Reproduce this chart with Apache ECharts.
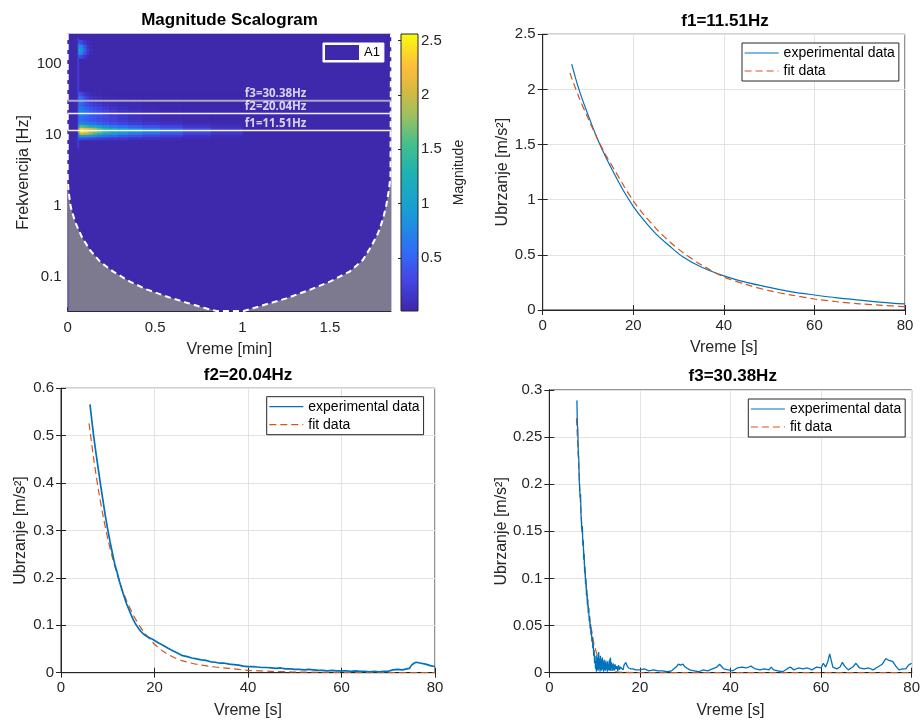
<!DOCTYPE html>
<html><head><meta charset="utf-8">
<script src="https://cdn.jsdelivr.net/npm/echarts@6/dist/echarts.min.js"></script>
<style>html,body{margin:0;padding:0;background:#fff}#c{width:923px;height:722px}</style>
</head><body><div id="c"></div>
<script>
// ---------------- DATA ----------------
// Scalogram (time in minutes, frequency in Hz, magnitude)
const scaloTimeRange = [0, 1.85];
const scaloFreqRange = [0.0332, 264];
const scaloBackgroundMagnitude = 0.03;
const onsetTime = [0.058, 0.063];
const onsetFreq = [6.5, 230];
const onsetMagnitude = 0.28;
const bandTimeEdges = [0.063, 0.072, 0.082, 0.095, 0.11, 0.125, 0.145, 0.17, 0.2, 0.24, 0.29, 0.35, 0.43, 0.53, 0.66, 0.82, 1.0];
const bandFreqEdges = [8.5, 9.3, 10.1, 10.9, 11.8, 12.8, 14.0, 15.5, 17.0, 18.8, 20.8, 23.0, 25.5, 28.5, 32.0, 36.0, 40.0];
const bandMagnitude = [
  [0.30,0.35,0.35,0.30,0.30,0.28,0.25,0.22,0.20,0.18,0.15,0.12,0.10,0.08,0.06,0.05],
  [0.80,1.00,1.00,0.95,0.90,0.85,0.78,0.68,0.58,0.50,0.42,0.34,0.27,0.20,0.13,0.08],
  [1.60,2.00,2.00,1.90,1.80,1.70,1.55,1.35,1.15,1.00,0.85,0.70,0.55,0.40,0.26,0.15],
  [2.20,2.55,2.50,2.45,2.35,2.20,2.00,1.75,1.50,1.30,1.10,0.95,0.80,0.60,0.40,0.22],
  [2.00,2.35,2.30,2.25,2.10,1.95,1.80,1.55,1.30,1.15,0.95,0.80,0.65,0.50,0.32,0.18],
  [1.30,1.60,1.50,1.40,1.30,1.20,1.10,0.95,0.80,0.68,0.57,0.47,0.37,0.27,0.17,0.10],
  [0.70,0.80,0.75,0.70,0.65,0.60,0.55,0.48,0.40,0.33,0.27,0.20,0.15,0.10,0.07,0.05],
  [0.55,0.60,0.55,0.50,0.48,0.45,0.40,0.35,0.30,0.25,0.20,0.15,0.10,0.07,0.05,0.04],
  [0.60,0.65,0.60,0.55,0.50,0.45,0.40,0.35,0.30,0.24,0.18,0.13,0.09,0.06,0.04,0.03],
  [0.70,0.75,0.70,0.62,0.55,0.50,0.44,0.38,0.30,0.23,0.17,0.12,0.08,0.05,0.04,0.03],
  [0.75,0.80,0.72,0.65,0.58,0.50,0.42,0.35,0.27,0.20,0.14,0.10,0.06,0.04,0.03,0.03],
  [0.65,0.65,0.60,0.52,0.45,0.38,0.32,0.25,0.19,0.14,0.10,0.07,0.05,0.03,0.03,0.03],
  [0.55,0.55,0.48,0.40,0.33,0.27,0.22,0.17,0.13,0.09,0.07,0.05,0.04,0.03,0.03,0.03],
  [0.70,0.70,0.55,0.40,0.30,0.22,0.17,0.12,0.09,0.07,0.05,0.04,0.03,0.03,0.03,0.03],
  [0.65,0.60,0.45,0.30,0.20,0.14,0.10,0.07,0.05,0.04,0.03,0.03,0.03,0.03,0.03,0.03],
  [0.40,0.35,0.25,0.17,0.12,0.08,0.06,0.05,0.04,0.03,0.03,0.03,0.03,0.03,0.03,0.03]
];
const spotTimeEdges = [0.063, 0.072, 0.082, 0.095, 0.11, 0.125, 0.145];
const spotFreqEdges = [120, 135, 150, 168, 190, 215];
const spotMagnitude = [
  [0.40,0.35,0.25,0.15,0.08,0.05],
  [0.90,0.80,0.60,0.35,0.15,0.07],
  [1.10,1.00,0.75,0.45,0.20,0.08],
  [0.90,0.80,0.60,0.35,0.15,0.06],
  [0.40,0.35,0.25,0.15,0.08,0.05]
];
// cone of influence
const coiTime = [0, 0, 0.004, 0.017, 0.042, 0.08, 0.127, 0.185, 0.261, 0.356, 0.451, 0.566, 0.68, 0.794, 0.851, 1.007, 1.118, 1.251, 1.385, 1.5, 1.613, 1.689, 1.737, 1.775, 1.803, 1.823, 1.838, 1.847, 1.85];
const coiFreq = [264, 2.59, 1.68, 0.98, 0.60, 0.37, 0.24, 0.164, 0.119, 0.086, 0.067, 0.053, 0.0435, 0.036, 0.0332, 0.0332, 0.040, 0.050, 0.066, 0.086, 0.119, 0.174, 0.27, 0.41, 0.64, 1.02, 1.68, 2.59, 264];
const peakNames = ['f1', 'f2', 'f3'];
const peakFreqs = [11.51, 20.04, 30.38];
const magnitudeRange = [0.01, 2.56];
const colorbarTicks = [0.5, 1, 1.5, 2, 2.5];

// f1 panel
const f1ExpTime = [6.4, 8, 10, 12, 14, 16, 18, 20, 22, 25, 28, 31, 35, 40, 45, 50, 55, 60, 65, 70, 75, 80];
const f1ExpVal  = [2.23, 2.0, 1.77, 1.56, 1.38, 1.22, 1.07, 0.94, 0.83, 0.69, 0.58, 0.48, 0.39, 0.31, 0.25, 0.205, 0.165, 0.136, 0.11, 0.09, 0.07, 0.055];
const f1FitTime = [6, 8, 10, 12, 14, 16, 18, 20, 22, 25, 28, 31, 35, 40, 45, 50, 55, 60, 65, 70, 75, 80];
const f1FitVal  = [2.15, 1.93, 1.74, 1.56, 1.40, 1.26, 1.12, 0.99, 0.88, 0.74, 0.62, 0.52, 0.41, 0.30, 0.23, 0.175, 0.135, 0.10, 0.075, 0.056, 0.042, 0.03];

// f2 panel
const f2ExpTime = [6.2, 6.5, 7.0, 7.5, 8.0, 8.5, 9.0, 9.5, 10.0, 10.5, 11.0, 11.5, 12.0, 12.5, 13.0, 13.5, 14.0, 14.5, 15.0, 15.5, 16.0, 16.5, 17.0, 17.5, 18.0, 18.5, 19.0, 19.5, 20.0,
  21, 22, 23, 24, 25, 26, 27, 28, 29, 30, 31, 32, 33, 34, 35, 36, 37, 38, 39, 40, 41, 42, 43, 44, 45, 46, 47, 48, 49, 50,
  51, 52, 53, 54, 55, 56, 57, 58, 59, 60, 61, 62, 63, 64, 65, 66, 67, 68, 69, 70, 71, 72, 73, 74, 74.5, 75, 75.5, 76, 76.5, 77, 78, 79, 80];
const f2ExpVal = [0.566, 0.540, 0.498, 0.462, 0.428, 0.394, 0.362, 0.330, 0.302, 0.276, 0.252, 0.229, 0.212, 0.193, 0.176, 0.161, 0.146, 0.134, 0.122, 0.111, 0.102, 0.095, 0.088, 0.083, 0.079, 0.076, 0.073, 0.071, 0.068,
  0.062, 0.057, 0.051, 0.046, 0.041, 0.036, 0.034, 0.031, 0.029, 0.027, 0.026, 0.023, 0.022, 0.020, 0.020, 0.018, 0.017, 0.016, 0.014, 0.013, 0.013, 0.012, 0.011, 0.011, 0.010, 0.009, 0.010, 0.008, 0.008, 0.007,
  0.007, 0.006, 0.007, 0.006, 0.005, 0.005, 0.004, 0.005, 0.004, 0.004, 0.004, 0.003, 0.004, 0.003, 0.003, 0.002, 0.003, 0.002, 0.003, 0.003, 0.006, 0.007, 0.006, 0.008, 0.009, 0.016, 0.020, 0.022, 0.021, 0.020, 0.018, 0.015, 0.013];
const f2FitTime = [6, 7, 8, 9, 10, 11, 12, 13, 14, 15, 16, 17, 18, 19, 20, 22, 24, 26, 28, 30, 33, 36, 40, 45, 50, 55, 60, 70, 80];
const f2FitVal  = [0.526, 0.451, 0.386, 0.331, 0.283, 0.243, 0.208, 0.178, 0.153, 0.131, 0.112, 0.096, 0.082, 0.071, 0.060, 0.044, 0.033, 0.025, 0.020, 0.016, 0.012, 0.009, 0.005, 0.003, 0.0015, 0.001, 0.0005, 0.0001, 0.0];

// f3 panel
const f3ExpTime = [6.1, 6.2, 6.3, 6.4, 6.5, 6.6, 6.7, 6.8, 6.9, 7.0, 7.1, 7.2, 7.3, 7.4, 7.5, 7.6, 7.7, 7.8, 7.9, 8.0, 8.1, 8.2, 8.3, 8.4, 8.5, 8.6, 8.7, 8.8, 8.9, 9.0, 9.1, 9.2, 9.3, 9.4, 9.5, 9.6, 9.7, 9.8, 9.9, 10.0, 10.1, 10.2, 10.3,
  10.4, 10.5, 10.6, 10.7, 10.8, 10.9, 11.0, 11.1, 11.2, 11.3, 11.4, 11.5, 11.6, 11.7, 11.8, 11.9, 12.0, 12.1, 12.2, 12.3, 12.4, 12.5, 12.6, 12.7, 12.8, 12.9, 13.0, 13.1, 13.2, 13.3, 13.4, 13.5, 13.6, 13.7, 13.8, 13.9, 14.0, 14.1, 14.2, 14.3, 14.4, 14.5, 14.7, 14.9, 15.1, 15.3, 15.5, 15.7, 15.9, 16.1, 16.3, 16.5, 16.7, 16.9, 17.1, 17.3, 17.5, 17.7, 18.0, 18.5, 19.0, 19.5, 20.0,
  21, 22, 23, 24, 25, 26, 27, 28, 28.5, 29, 29.5, 30, 31, 32, 33, 34, 35, 36, 37, 37.6, 38.5, 39.5, 40.5, 41.5, 42.5, 43.5, 44.5, 45.5, 46.5, 47.5, 48.5, 49, 49.5, 50.5, 51.5, 52.5, 53.2, 54, 55, 56, 57, 58, 59, 60, 60.5, 61, 61.5, 61.9, 62.3, 62.6, 63.5, 64.2, 64.7, 65.2, 66, 67, 67.7, 68.5, 69.5, 70.5, 71.5, 72.5, 73.5, 74.3, 75, 75.8, 76.5, 77.2, 78, 78.7, 79.3, 80];
const f3ExpVal = [0.289, 0.262, 0.258, 0.232, 0.228, 0.205, 0.207, 0.186, 0.190, 0.168, 0.170, 0.150, 0.156, 0.135, 0.140, 0.120, 0.126, 0.106, 0.112, 0.094, 0.100, 0.082, 0.088, 0.072, 0.078, 0.063, 0.069, 0.055, 0.060, 0.047, 0.052, 0.040, 0.045, 0.033, 0.038, 0.026, 0.031, 0.018, 0.024, 0.010, 0.018, 0.004, 0.012,
  0.001, 0.019, 0.003, 0.016, 0.002, 0.022, 0.004, 0.015, 0.001, 0.018, 0.003, 0.014, 0.002, 0.016, 0.004, 0.012, 0.001, 0.014, 0.003, 0.011, 0.002, 0.013, 0.004, 0.010, 0.001, 0.012, 0.003, 0.009, 0.002, 0.014, 0.003, 0.016, 0.002, 0.011, 0.004, 0.009, 0.002, 0.010, 0.003, 0.008, 0.002, 0.009, 0.004, 0.007, 0.002, 0.008, 0.003, 0.006, 0.004, 0.007, 0.003, 0.008, 0.006, 0.011, 0.008, 0.010, 0.005, 0.007, 0.004, 0.004, 0.003, 0.003, 0.003,
  0.004, 0.002, 0.003, 0.002, 0.002, 0.001, 0.002, 0.006, 0.009, 0.008, 0.009, 0.006, 0.003, 0.002, 0.001, 0.003, 0.002, 0.004, 0.006, 0.009, 0.004, 0.003, 0.002, 0.005, 0.006, 0.005, 0.007, 0.004, 0.003, 0.004, 0.003, 0.006, 0.003, 0.002, 0.001, 0.004, 0.006, 0.003, 0.005, 0.004, 0.005, 0.003, 0.006, 0.005, 0.010, 0.006, 0.012, 0.020, 0.012, 0.006, 0.004, 0.006, 0.011, 0.007, 0.003, 0.006, 0.010, 0.005, 0.004, 0.005, 0.003, 0.006, 0.009, 0.015, 0.013, 0.012, 0.007, 0.003, 0.004, 0.004, 0.008, 0.010];
const f3FitTime = [6, 6.5, 7, 7.5, 8, 8.5, 9, 9.5, 10, 11, 12, 14, 16, 20, 30, 80];
const f3FitVal  = [0.27, 0.22, 0.17, 0.135, 0.10, 0.075, 0.055, 0.04, 0.028, 0.014, 0.007, 0.002, 0.0005, 0.0001, 0, 0];

// ---------------- STYLE / BUILD ----------------
const FONT = 'Liberation Sans';
const AX = '#262626';
const EXP_COLOR = '#0072BD';
const FIT_COLOR = '#D95319';
const GRIDLINE = '#e3e3e3';
const parulaPos = [0, 0.12, 0.22, 0.35, 0.5, 0.6, 0.7, 0.8, 0.88, 1];
const parulaHex = ['#3e26a8', '#4448e8', '#2f6ef5', '#1a9ad8', '#1eb3b0', '#45be8c', '#98c162', '#d9ba3f', '#fdbd3c', '#f9fb0e'];
const parulaRgb = parulaHex.map(h => [1, 3, 5].map(i => parseInt(h.substr(i, 2), 16)));
function parula(v) {
  let n = (v - magnitudeRange[0]) / (magnitudeRange[1] - magnitudeRange[0]);
  n = Math.max(0, Math.min(1, n));
  for (let i = 0; i < parulaPos.length - 1; i++) {
    if (n <= parulaPos[i + 1]) {
      const f = (n - parulaPos[i]) / (parulaPos[i + 1] - parulaPos[i]);
      const c = parulaRgb[i].map((a, k) => Math.round(a + (parulaRgb[i + 1][k] - a) * f));
      return 'rgb(' + c.join(',') + ')';
    }
  }
  return parulaHex[parulaHex.length - 1];
}
const zip = (t, v) => t.map((x, i) => [x, v[i]]);

const cells = [];
cells.push([scaloTimeRange[0], scaloTimeRange[1], scaloFreqRange[0], scaloFreqRange[1], scaloBackgroundMagnitude]);
cells.push([onsetTime[0], onsetTime[1], onsetFreq[0], onsetFreq[1], onsetMagnitude]);
bandMagnitude.forEach((row, r) => row.forEach((v, c) => cells.push([bandTimeEdges[c], bandTimeEdges[c + 1], bandFreqEdges[r], bandFreqEdges[r + 1], v])));
spotMagnitude.forEach((row, r) => row.forEach((v, c) => cells.push([spotTimeEdges[c], spotTimeEdges[c + 1], spotFreqEdges[r], spotFreqEdges[r + 1], v])));

function renderCell(params, api) {
  const p0 = api.coord([api.value(0), api.value(3)]);
  const p1 = api.coord([api.value(1), api.value(2)]);
  const cs = params.coordSys;
  const rect = echarts.graphic.clipRectByRect(
    { x: p0[0], y: p0[1], width: p1[0] - p0[0], height: p1[1] - p0[1] },
    { x: cs.x, y: cs.y, width: cs.width, height: cs.height });
  if (!rect) return null;
  const col = parula(api.value(4));
  return { type: 'rect', shape: rect, style: { fill: col, stroke: col, lineWidth: 0.6 } };
}

const grids = [
  { left: 67.7, top: 34, width: 323.3, height: 277 },
  { left: 401, top: 34, width: 17, height: 277 },
  { left: 542.7, top: 34.3, width: 362.3, height: 275.7, show: true, borderColor: AX, borderWidth: 1, backgroundColor: '#fff' },
  { left: 61, top: 388.3, width: 374, height: 284.4, show: true, borderColor: AX, borderWidth: 1, backgroundColor: '#fff' },
  { left: 549.3, top: 390, width: 366.7, height: 282.7, show: true, borderColor: AX, borderWidth: 1, backgroundColor: '#fff' }
];

const tickStyle = { inside: true, length: 5, lineStyle: { color: AX, width: 1 } };
const lineStyleAx = { show: true, lineStyle: { color: AX, width: 1 } };
const labelStyle = { fontSize: 15, color: AX, fontFamily: FONT };

function bottomX(g, name) {
  return { gridIndex: g, type: 'value', min: 0, max: 80, interval: 20, axisLine: lineStyleAx, axisTick: tickStyle,
    axisLabel: Object.assign({ margin: 8 }, labelStyle), splitLine: { show: true, lineStyle: { color: GRIDLINE } },
    name: name, nameLocation: 'middle', nameGap: 30, nameTextStyle: { fontSize: 16, color: AX, fontFamily: FONT } };
}
function topX(g) {
  return { gridIndex: g, type: 'value', position: 'top', min: 0, max: 80, interval: 20, axisLine: lineStyleAx, axisTick: tickStyle,
    axisLabel: { show: false }, splitLine: { show: false } };
}
function leftY(g, max, interval) {
  return { gridIndex: g, type: 'value', min: 0, max: max, interval: interval, axisLine: lineStyleAx, axisTick: tickStyle,
    axisLabel: Object.assign({ margin: 7 }, labelStyle), splitLine: { show: true, lineStyle: { color: GRIDLINE } },
    name: 'Ubrzanje [m/s²]', nameLocation: 'middle', nameRotate: 90, nameGap: 32, nameTextStyle: { fontSize: 16, color: AX, fontFamily: FONT } };
}
function rightY(g, max, interval) {
  return { gridIndex: g, type: 'value', position: 'right', min: 0, max: max, interval: interval, axisLine: lineStyleAx, axisTick: tickStyle,
    axisLabel: { show: false }, splitLine: { show: false } };
}

const xAxis = [
  { gridIndex: 0, type: 'value', min: scaloTimeRange[0], max: scaloTimeRange[1], interval: 0.5,
    axisLine: { show: true, lineStyle: { color: AX } }, axisTick: { inside: true, length: 4, lineStyle: { color: AX } },
    axisLabel: Object.assign({ margin: 9, showMaxLabel: false }, labelStyle), splitLine: { show: false },
    name: 'Vreme [min]', nameLocation: 'middle', nameGap: 31, nameTextStyle: { fontSize: 16, color: AX, fontFamily: FONT } },
  { gridIndex: 1, type: 'value', min: 0, max: 1, show: false },
  bottomX(2, 'Vreme [s]'), topX(2),
  bottomX(3, 'Vreme [s]'), topX(3),
  bottomX(4, 'Vreme [s]'), topX(4)
];
const yAxis = [
  { gridIndex: 0, type: 'log', logBase: 10, min: scaloFreqRange[0], max: scaloFreqRange[1],
    axisLine: { show: false }, axisTick: { show: false },
    axisLabel: Object.assign({ margin: 6, showMinLabel: false, showMaxLabel: false,
      formatter: v => { const l = Math.log10(v); return Math.abs(l - Math.round(l)) < 1e-6 ? String(+v.toPrecision(3)) : ''; } }, labelStyle),
    splitLine: { show: false },
    name: 'Frekvencija [Hz]', nameLocation: 'middle', nameRotate: 90, nameGap: 36, nameTextStyle: { fontSize: 16, color: AX, fontFamily: FONT } },
  { gridIndex: 1, type: 'value', position: 'right', min: magnitudeRange[0], max: magnitudeRange[1],
    axisLine: { show: false }, axisTick: { show: true, inside: true, length: 3, lineStyle: { color: AX }, customValues: colorbarTicks },
    axisLabel: Object.assign({ margin: 3, customValues: colorbarTicks,
      formatter: v => (Math.abs(v * 2 - Math.round(v * 2)) < 1e-6 ? String(v) : '') }, labelStyle),
    splitLine: { show: false },
    name: 'Magnitude', nameLocation: 'middle', nameRotate: 90, nameGap: 34, nameTextStyle: { fontSize: 14, color: AX, fontFamily: FONT } },
  leftY(2, 2.5, 0.5), rightY(2, 2.5, 0.5),
  leftY(3, 0.6, 0.1), rightY(3, 0.6, 0.1),
  leftY(4, 0.3, 0.05), rightY(4, 0.3, 0.05)
];

const series = [
  { name: 'A1', type: 'custom', xAxisIndex: 0, yAxisIndex: 0, renderItem: renderCell, data: cells,
    encode: { x: [0, 1], y: [2, 3] }, itemStyle: { color: parula(scaloBackgroundMagnitude) }, z: 1, silent: true },
  { name: 'COI', type: 'line', xAxisIndex: 0, yAxisIndex: 0, data: zip(coiTime, coiFreq), symbol: 'none',
    lineStyle: { color: '#ffffff', width: 2, type: [6, 4] }, areaStyle: { color: '#7d7a90', opacity: 1, origin: 'start' }, z: 2, silent: true },
  { name: 'cb', type: 'custom', xAxisIndex: 1, yAxisIndex: 1, data: [[magnitudeRange[0], magnitudeRange[1]]], encode: { y: [0, 1] },
    renderItem: (params, api) => {
      const p0 = api.coord([0, api.value(1)]);
      const p1 = api.coord([1, api.value(0)]);
      return { type: 'rect', shape: { x: p0[0], y: p0[1], width: p1[0] - p0[0], height: p1[1] - p0[1] },
        style: { fill: new echarts.graphic.LinearGradient(0, 1, 0, 0, parulaPos.map((p, i) => ({ offset: p, color: parulaHex[i] }))), stroke: AX, lineWidth: 1 } };
    }, silent: true }
];
peakFreqs.forEach((f, i) => {
  series.push({ name: peakNames[i] + 'line', type: 'line', xAxisIndex: 0, yAxisIndex: 0, symbol: 'none', silent: true, z: 3,
    data: [[scaloTimeRange[0], f], [scaloTimeRange[1], f]],
    lineStyle: { color: i === 2 ? '#a9a6c6' : '#f4f4f8', width: i === 2 ? 2 : 1.5 } });
  series.push({ name: peakNames[i] + 'label', type: 'scatter', xAxisIndex: 0, yAxisIndex: 0, symbolSize: 0, silent: true, z: 4,
    data: [[1.19, f]],
    label: { show: true, position: 'top', distance: 1, formatter: peakNames[i] + '=' + f.toFixed(2) + 'Hz',
      color: '#ffffff', fontWeight: 'bold', fontSize: 11.5, fontFamily: 'Open Sans' } });
});
const panels = [
  [2, f1ExpTime, f1ExpVal, f1FitTime, f1FitVal, 1.2, true],
  [3, f2ExpTime, f2ExpVal, f2FitTime, f2FitVal, 1.7, false],
  [4, f3ExpTime, f3ExpVal, f3FitTime, f3FitVal, 1.3, false]
];
panels.forEach(([g, et, ev, ft, fv, w, sm]) => {
  const ax = g === 2 ? 2 : (g === 3 ? 4 : 6);
  series.push({ name: 'experimental data', type: 'line', xAxisIndex: ax, yAxisIndex: ax, data: zip(et, ev), symbol: 'none', smooth: sm ? 0.3 : false,
    lineStyle: { color: EXP_COLOR, width: w }, itemStyle: { color: EXP_COLOR }, z: 3 });
  series.push({ name: 'fit data', type: 'line', xAxisIndex: ax, yAxisIndex: ax, data: zip(ft, fv), symbol: 'none', smooth: 0.3,
    lineStyle: { color: FIT_COLOR, width: 1.2, type: [7, 4] }, itemStyle: { color: FIT_COLOR }, z: g === 2 ? 4 : 2 });
});

function lineLegend(left, top) {
  return { data: ['experimental data', 'fit data'], left: left, top: top, orient: 'vertical', itemWidth: 34, itemHeight: 14, itemGap: 4,
    padding: [3, 4, 3, 2], backgroundColor: '#fff', borderColor: AX, borderWidth: 1, selectedMode: false,
    itemStyle: { opacity: 0 }, lineStyle: { width: 1.2 },
    textStyle: { fontSize: 14, color: '#000', fontFamily: FONT } };
}
const titleStyle = { fontSize: 17, fontWeight: 'bold', color: '#000', fontFamily: FONT, lineHeight: 20 };
const option = {
  animation: false,
  textStyle: { fontFamily: FONT },
  title: [
    { text: 'Magnitude Scalogram', left: 229.5, top: 10.7, textAlign: 'center', padding: 0, textStyle: titleStyle },
    { text: peakNames[0] + '=' + peakFreqs[0].toFixed(2) + 'Hz', left: 725, top: 11.7, textAlign: 'center', padding: 0, textStyle: titleStyle },
    { text: peakNames[1] + '=' + peakFreqs[1].toFixed(2) + 'Hz', left: 248, top: 365, textAlign: 'center', padding: 0, textStyle: titleStyle },
    { text: peakNames[2] + '=' + peakFreqs[2].toFixed(2) + 'Hz', left: 732.7, top: 366, textAlign: 'center', padding: 0, textStyle: titleStyle }
  ],
  legend: [
    { data: ['A1'], left: 323, top: 43, icon: 'rect', itemWidth: 34, itemHeight: 15, padding: [2, 4, 2, 2], backgroundColor: '#fff',
      borderColor: '#fff', borderWidth: 1, selectedMode: false, textStyle: { fontSize: 13, color: '#000', fontFamily: FONT } },
    lineLegend(742, 43), lineLegend(266.7, 396.7), lineLegend(748.3, 399)
  ],
  grid: grids,
  xAxis: xAxis,
  yAxis: yAxis,
  series: series
};
const chart = echarts.init(document.getElementById('c'), null, { renderer: 'canvas' });
chart.setOption(option);
</script></body></html>
